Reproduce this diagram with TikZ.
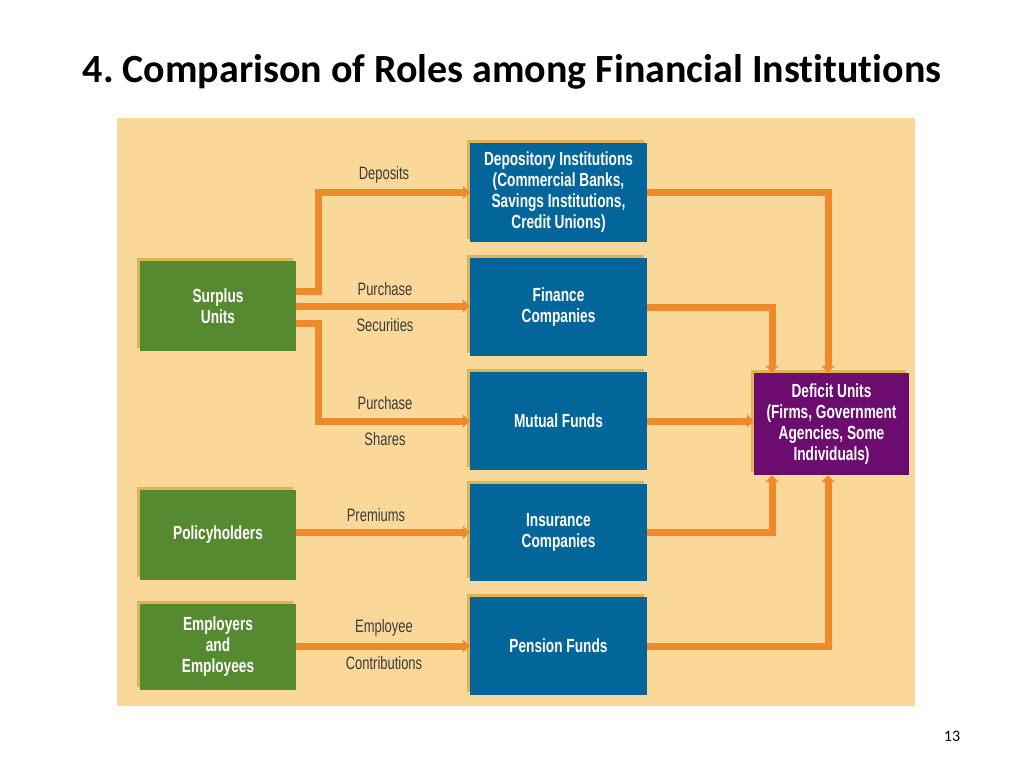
\documentclass[tikz,border=0pt]{standalone}
\usepackage{fontspec}
\setmainfont[Ligatures=NoCommon]{Carlito}
\newfontfamily\condr[FakeStretch=0.72]{Liberation Sans}
\newfontfamily\condb[FakeStretch=0.72]{Liberation Sans}
\usetikzlibrary{arrows.meta,shadows}
\definecolor{panel}{HTML}{F9D899}
\definecolor{shade}{HTML}{DDB357}
\definecolor{flowc}{HTML}{EE8A2C}
\definecolor{greenc}{HTML}{558A30}
\definecolor{bluec}{HTML}{03669A}
\definecolor{purplec}{HTML}{6C0C6E}
\definecolor{labc}{HTML}{3C3C3C}
\frenchspacing
\begin{document}
\begin{tikzpicture}[x=1pt,y=-1pt,
  box/.style={draw=none,align=center,text=white,
    font=\condb\bfseries\fontsize{19}{21}\selectfont,inner sep=0pt,
    general shadow={fill=shade,shadow xshift=-3.5pt,shadow yshift=3.5pt}},
  srcbox/.style={box,fill=greenc,minimum width=156pt},
  midbox/.style={box,fill=bluec,minimum width=177pt},
  defbox/.style={box,fill=purplec,minimum width=155pt,minimum height=102pt},
  flow/.style={draw=flowc,line width=7pt,-{Triangle[width=13pt,length=7pt]}},
  lab/.style={text=labc,font=\condr\fontsize{18}{20}\selectfont,inner sep=0pt}]
\fill[white] (0,0) rectangle (1024,768);
\useasboundingbox (0,0) rectangle (1024,768);
\fill[panel] (117,118) rectangle (915,706);
\node[font=\bfseries\fontsize{40}{48}\selectfont,anchor=base] (title) at (512,82) {4. Comparison of Roles among Financial Institutions};
\node[font=\fontsize{16}{19}\selectfont,anchor=base] (pnum) at (952,741) {13};
% sources
\node[srcbox,minimum height=90pt] (surplus) at (218,306) {Surplus\\Units};
\node[srcbox,minimum height=90pt] (policy) at (218,535) {Policyholders};
\node[srcbox,minimum height=86pt] (employ) at (218,647) {Employers\\and\\Employees};
% institutions
\node[midbox,minimum height=99pt] (dep) at (558.5,192.5) {Depository Institutions\\(Commercial Banks,\\Savings Institutions,\\Credit Unions)};
\node[midbox,minimum height=98pt] (fin) at (558.5,307) {Finance\\Companies};
\node[midbox,minimum height=98pt] (mut) at (558.5,421) {Mutual Funds};
\node[midbox,minimum height=97pt] (ins) at (558.5,532.5) {Insurance\\Companies};
\node[midbox,minimum height=98pt] (pen) at (558.5,646) {Pension Funds};
% deficit
\node[defbox] (def) at (831.5,424) {Deficit Units\\(Firms, Government\\Agencies, Some\\Individuals)};
% left flows
\draw[flow] ([yshift=15pt]surplus.east) -- ++(22,0) |- (dep.west);
\draw[flow] (surplus.east) -- (surplus.east -| fin.west);
\draw[flow] ([yshift=-17pt]surplus.east) -- ++(22,0) |- (mut.west);
\draw[flow] (ins.west -| policy.east) -- (ins.west);
\draw[flow] (pen.west -| employ.east) -- (pen.west);
% right flows
\draw[flow] (dep.east) -| ([xshift=-3.5pt]def.north);
\draw[flow] (fin.east) -| ([xshift=-59.5pt]def.north);
\draw[flow] (mut.east) -- (mut.east -| def.west);
\draw[flow] (ins.east) -| ([xshift=-59.5pt]def.south);
\draw[flow] (pen.east) -| ([xshift=-3.5pt]def.south);
% labels
\node[lab] (l1) at (384,175) {Deposits};
\node[lab] (l2) at (385,289) {Purchase};
\node[lab] (l3) at (385,325) {Securities};
\node[lab] (l4) at (385,403) {Purchase};
\node[lab] (l5) at (385,439) {Shares};
\node[lab] (l6) at (376,515) {Premiums};
\node[lab] (l7) at (384,628) {Employee};
\node[lab] (l8) at (384,663) {Contributions};
\end{tikzpicture}
\end{document}
